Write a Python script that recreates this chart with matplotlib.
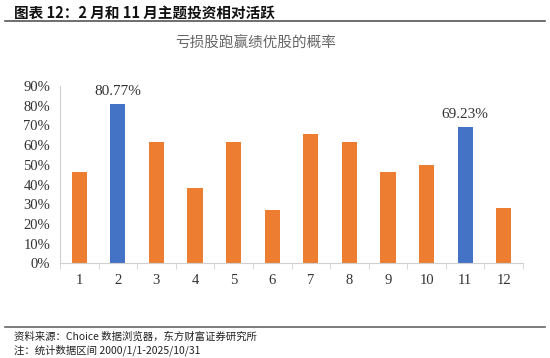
import matplotlib.pyplot as plt
from matplotlib.lines import Line2D

plt.rcParams['font.family'] = ['Liberation Serif', 'Noto Sans CJK SC', 'DejaVu Sans']

months = ['1', '2', '3', '4', '5', '6', '7', '8', '9', '10', '11', '12']
prob = [46.15, 80.77, 61.54, 38.46, 61.54, 26.92, 65.38, 61.54, 46.15, 50.00, 69.23, 28.00]
highlight = ['2', '11']

orange = '#ED7D31'
blue = '#4472C4'
cjk = ['Noto Sans CJK SC', 'DejaVu Sans']

fig = plt.figure(figsize=(5.5, 3.58), dpi=100)
ax = fig.add_axes([0.109, 0.2645, 0.842, 0.4953])

pos = list(range(len(months)))
colors = [blue if m in highlight else orange for m in months]
ax.bar(pos, [p / 100 for p in prob], width=0.39, color=colors, zorder=2)

for i, (m, p) in enumerate(zip(months, prob)):
    if m in highlight:
        ax.text(i, p / 100 + 0.03, '%.2f%%' % p, ha='center', va='bottom',
                fontsize=11, color='#333333')

ax.set_xlim(-0.5, len(months) - 0.5)
ax.set_ylim(0, 0.9)
ax.set_yticks([i / 10 for i in range(10)])
ax.set_yticklabels(['%d%%' % (i * 10) for i in range(10)], fontsize=10.5, color='#333333')
ax.set_xticks(pos)
ax.set_xticklabels(months, fontsize=10.5, color='#333333')
ax.set_xticks([i - 0.5 for i in range(len(months) + 1)], minor=True)
ax.tick_params(axis='x', which='major', length=0, pad=8)
ax.tick_params(axis='x', which='minor', length=4, color='#D0D0D0', direction='out')
ax.tick_params(axis='y', length=0, pad=7)
for s in ['top', 'right']:
    ax.spines[s].set_visible(False)
for s in ['left', 'bottom']:
    ax.spines[s].set_color('#D0D0D0')

# header, chart title and footer
fig.text(0.025, 0.965, '图表 12：2 月和 11 月主题投资相对活跃', family=cjk,
         fontsize=10.5, fontweight='bold', va='center', ha='left', color='#111111')
fig.add_artist(Line2D([0.009, 0.991], [0.941, 0.941], color='#555555', lw=1.2))
fig.text(0.464, 0.877, '亏损股跑赢绩优股的概率', family=cjk, fontsize=10.5,
         color='#666666', ha='center', va='center')
fig.add_artist(Line2D([0.009, 0.991], [0.087, 0.087], color='#666666', lw=1.2))
fig.text(0.025, 0.06, '资料来源：Choice 数据浏览器，东方财富证券研究所', family=cjk,
         fontsize=7.5, color='#222222', ha='left', va='center')
fig.text(0.025, 0.022, '注：统计数据区间 2000/1/1-2025/10/31', family=cjk,
         fontsize=7.5, color='#222222', ha='left', va='center')

fig.savefig('out.png', dpi=100)
